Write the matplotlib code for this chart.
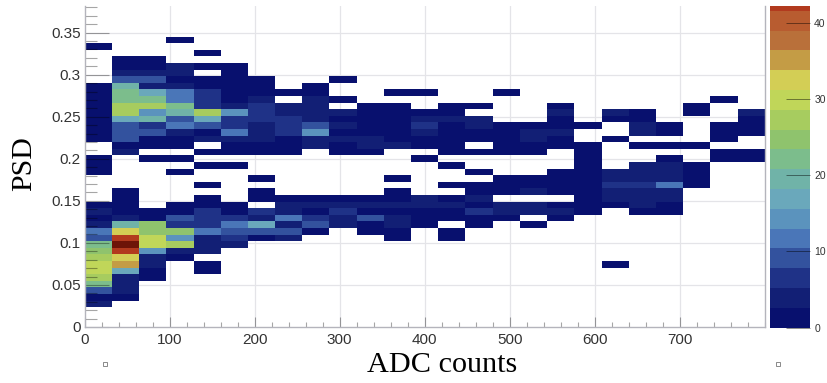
import numpy as np
import matplotlib
matplotlib.use('Agg')
from matplotlib import pyplot as plt
from matplotlib.colors import ListedColormap, BoundaryNorm
from matplotlib.lines import Line2D
from matplotlib.ticker import MultipleLocator

plt.rcParams['font.family'] = ['Liberation Sans', 'DejaVu Sans']

# histogram binning
adc_bin = 32
psd_bin = 0.00785
n_psd_bins = 48

# first filled PSD bin of each ADC column
first_bin = [3, 4, 7, 10, 8, 12, 13, 13, 14, 15, 14, 13, 15, 13, 15, 16, 15, 16, 17, 9, 17, 17, 21, 25, 25]

# counts per ADC column, going up from first_bin (0 is an empty cell)
col_counts = [
    [3,2,8,21,28,31,31,28,24,23,8,11,4,1,3,1, 0,0,0,0, 1,1,1, 0,0, 1,2,1,1,1,1,1,1,1, 0,0,0,0,0, 1],
    [2,3,3,5,16,35,33,42,46,42,33,20,3,2,2,1,1, 0,0,0,0,0, 4,2,8,8,9,17,27,28,22,22,19,8,5,1,2],
    [1,1,5,3,13,30,30,25,25,2,1, 0,0,0,0,0,0,0, 1, 0, 1,1,8,7,20,15,26,22,18,3,8,3,1,1],
    [2,4,26,15,24,7,10,1,1, 0,0,0,0, 1, 0, 1, 0, 1,2,3,11,8,20,21,11,11,4,2,3,3, 0,0,0, 1],
    [1,1, 0, 3,5,5,11,7,7,7,1,1, 0, 1, 0,0, 1, 0, 1, 0, 3,2,9,18,28,7,7,7,1,1, 0, 1, 0, 1],
    [4,7,8,11,6,2,1, 0,0,0,0,0, 1, 0, 1,1,5,11,6,7,13,4,2,1,1,1,1,1],
    [2,8,18,4,6, 0, 1,1, 0, 1, 0,0,0, 1,1,4,3,5,6,7,7,3,1,1,1],
    [3,8,4,11,3,3,1, 0,0,0,0,0,0, 1,2,2,7,7,6,3,3, 0, 1],
    [2,8,6,2,3,1, 0,0,0,0,0,0,0, 3,3,13,8,5,3,3,3,1,1],
    [3,3,6,3,1, 0,0,0,0,0,0, 1,2,3,2,5,1,3, 0, 1, 0,0, 1],
    [1,1,9,2,3,1, 0,0,0,0,0,0, 1,3,3,1,1,1,1,1],
    [1,1,3,3,1,5,1,1, 0, 1, 0,0,0,0, 3,1,2,1,2,2,1, 0, 1],
    [1,1,2,3,5, 0,0,0,0,0, 1, 0, 1,1,3,6,3,2, 0,0, 1],
    [1,1, 0, 1,1,3,1, 0, 1, 0,0, 1, 0, 1,1,1,2,2,3,1,1],
    [1,2,6,2,3,1,1, 0, 1, 0,0, 1, 0, 1,1,3,3, 0, 1],
    [1,3,3, 0, 1,1,1, 0,0,0, 1,1,1,1,1, 0,0,0,0, 1],
    [1, 0, 3,3, 0, 3,1,1, 0,0,0, 1,1,4,4,1],
    [1,4,1, 0, 2,1,1,1, 0,0,0, 1,1,5,1,1,4,1],
    [2,2,1,1,1,1,1,1,1,1,1, 0,0, 2],
    [1, 0,0,0,0,0,0,0,0, 1,3,3,7,4,3, 0,0,0,0, 1, 0,0, 2,3],
    [1,4,3,3,7,4,3,3, 0,0, 1, 0, 3,3,1,1],
    [1,1,3,3,11,4,4,3,1, 0, 1, 0, 1,1],
    [1,1,1,1, 0,0, 1, 0,0,0,0, 1,1],
    [2,1, 0, 1,1,1, 0,0,0, 1],
    [1,1, 0,0, 1,1,1,3],
]

# palette bands of the colour scale, bottom to top
band_width = 2.6
band_colors = ['#08106e', '#121f75', '#1f3287', '#33529e', '#4a76b8', '#5b93bd',
               '#6aa8bb', '#70b3a8', '#7cbd8c', '#8fc36d', '#a7cc5f', '#c0d659',
               '#d3ce55', '#c49c45', '#b9703a', '#b85c30', '#b23a1e', '#6d1408']

cbar_ticks = [0, 10, 20, 30, 40]

counts = np.zeros((n_psd_bins, len(col_counts)))
for i, vals in enumerate(col_counts):
    counts[first_bin[i]:first_bin[i]+len(vals), i] = vals

x_edges = np.arange(len(col_counts)+1) * adc_bin
y_edges = np.arange(n_psd_bins+1) * psd_bin
cmap = ListedColormap(band_colors)
norm = BoundaryNorm(np.arange(len(band_colors)+1) * band_width, cmap.N)

fig = plt.figure(figsize=(8.27, 3.83), dpi=100)
W, H = 827, 383
ax = fig.add_axes([84.7/W, 1-327/H, 680/W, 321/H])
mesh = ax.pcolormesh(x_edges, y_edges, np.ma.masked_equal(counts, 0), cmap=cmap, norm=norm, zorder=1)

ax.set_xlim(0, 800)
ax.set_ylim(0, 321/841)

grid_col = '#e4e4e8'
for x in range(100, 800, 100):
    ax.axvline(x, color=grid_col, lw=0.9, zorder=0)
for y in np.arange(0.05, 0.36, 0.05):
    ax.axhline(y, color=grid_col, lw=0.9, zorder=0)

# see-through ticks, they only darken the cells underneath
tick_col = (0, 0, 0, 0.35)
ax.set_yticks(np.arange(0, 0.36, 0.05), ['0', '0.05', '0.1', '0.15', '0.2', '0.25', '0.3', '0.35'])
ax.set_xticks(np.arange(0, 800, 100))
ax.xaxis.set_minor_locator(MultipleLocator(20))
ax.yaxis.set_minor_locator(MultipleLocator(0.01))
ax.tick_params(axis='y', which='major', direction='in', length=17, width=0.8, color=tick_col,
               labelsize=11, labelcolor='#333333', pad=3)
ax.tick_params(axis='y', which='minor', direction='in', length=8.5, width=0.8, color=tick_col)
ax.tick_params(axis='x', which='major', direction='in', length=7.5, width=0.8, color=tick_col,
               labelsize=11, labelcolor='#333333', pad=4)
ax.tick_params(axis='x', which='minor', direction='in', length=3.5, width=0.8, color=tick_col)
ax.spines['top'].set_visible(False)
for side in ['left', 'bottom', 'right']:
    ax.spines[side].set_color('#b4b4bc')
    ax.spines[side].set_linewidth(1)

fig.text(24/W, 1-164/H, 'PSD', rotation=90, family='Liberation Serif', fontsize=21.5,
         color='black', ha='center', va='center')
fig.text(442/W, 1-365/H, 'ADC counts', family='Liberation Serif', fontsize=21.8,
         color='black', ha='center', va='center')

# colour scale
cax = fig.add_axes([770/W, 1-327.5/H, 40/W, 322/H])
cbar = fig.colorbar(mesh, cax=cax, spacing='proportional')
cbar.outline.set_visible(False)
cax.set_ylim(0, 42.3)
cbar.set_ticks(cbar_ticks)
cax.minorticks_off()
cax.tick_params(axis='y', direction='in', length=17, width=0.7, color=(0, 0, 0, 0.45), labelsize=7.5,
                labelcolor='#333333', pad=3)

# the two little handle squares of the pasted picture
for px in [105, 778]:
    fig.add_artist(Line2D([px/W], [1-364/H], marker='s', ms=3.5, mfc='white', mec='#777777', mew=0.6))

fig.savefig('out.png', dpi=100)
